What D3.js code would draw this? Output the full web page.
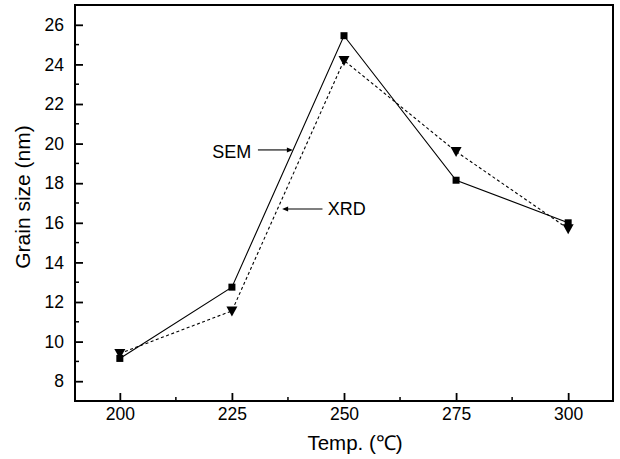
<!DOCTYPE html>
<html><head><meta charset="utf-8">
<script src="https://cdn.jsdelivr.net/npm/d3@7"></script>
<style>html,body{margin:0;padding:0;background:#fff;}svg{display:block;font-family:"Liberation Sans",Arial,sans-serif;}</style>
</head><body>
<svg id="c" width="620" height="459"></svg>
<script>
const temps = [200, 225, 250, 275, 300];
const semValues = [9.15, 12.75, 25.45, 18.15, 16.0];
const xrdValues = [9.4, 11.55, 24.2, 19.6, 15.7];
const xTicks = [200, 225, 250, 275, 300];
const yTicks = [8, 10, 12, 14, 16, 18, 20, 22, 24, 26];
const xLabel = "Temp. (℃)";
const yLabel = "Grain size (nm)";
const annotations = [
  {label: "SEM", textX: 220.6, textY: 19.27, fromX: 230.8, toX: 238.6, y: 19.68},
  {label: "XRD", textX: 246.4, textY: 16.39, fromX: 245.2, toX: 236.2, y: 16.7}
];

const svg = d3.select("#c");
const L = 75, R = 613, T = 5, B = 401;
const x = d3.scaleLinear().domain([190, 310]).range([L, R]);
const y = d3.scaleLinear().domain([7, 27]).range([B, T]);

// frame
svg.append("rect").attr("x", L).attr("y", T).attr("width", R - L).attr("height", B - T)
  .attr("fill", "none").attr("stroke", "#000").attr("stroke-width", 2);

// minor ticks
const xMinor = d3.range(212.5, 300, 25);
const yMinor = d3.range(9, 27, 2);
svg.append("g").selectAll("line").data(xMinor).join("line")
  .attr("x1", d => x(d)).attr("x2", d => x(d)).attr("y1", B).attr("y2", B - 4)
  .attr("stroke", "#000").attr("stroke-width", 1.5);
svg.append("g").selectAll("line").data(yMinor).join("line")
  .attr("y1", d => y(d)).attr("y2", d => y(d)).attr("x1", L).attr("x2", L + 4)
  .attr("stroke", "#000").attr("stroke-width", 1.5);

// axes
const xAxis = svg.append("g").attr("transform", `translate(0,${B})`)
  .call(d3.axisBottom(x).tickValues(xTicks).tickSizeInner(-8).tickSizeOuter(0).tickPadding(7));
const yAxis = svg.append("g").attr("transform", `translate(${L},0)`)
  .call(d3.axisLeft(y).tickValues(yTicks).tickSizeInner(-8).tickSizeOuter(0).tickPadding(11));
[xAxis, yAxis].forEach(g => {
  g.select(".domain").remove();
  g.selectAll(".tick line").attr("stroke-width", 1.8);
  g.selectAll("text").attr("font-size", 17.5).attr("fill", "#000")
    .attr("font-family", "'Liberation Sans',Arial,sans-serif");
});

// axis titles
svg.append("text").attr("x", 355).attr("y", 450).attr("text-anchor", "middle")
  .attr("font-size", 20.5).text(xLabel);
svg.append("text").attr("transform", `translate(30,197) rotate(-90)`).attr("text-anchor", "middle")
  .attr("font-size", 21).text(yLabel);

// lines
const line = d3.line().x(d => x(d[0])).y(d => y(d[1]));
const sem = temps.map((t, i) => [t, semValues[i]]);
const xrd = temps.map((t, i) => [t, xrdValues[i]]);
svg.append("path").datum(xrd).attr("d", line).attr("fill", "none")
  .attr("stroke", "#000").attr("stroke-width", 1.1).attr("stroke-dasharray", "3,2.5");
svg.append("path").datum(sem).attr("d", line).attr("fill", "none")
  .attr("stroke", "#000").attr("stroke-width", 1.1);

// markers
svg.append("g").selectAll("path").data(xrd).join("path")
  .attr("transform", d => `translate(${x(d[0])},${y(d[1])})`)
  .attr("d", "M-5.5,-4.5L5.5,-4.5L0,5.5Z").attr("fill", "#000");
svg.append("g").selectAll("rect").data(sem).join("rect")
  .attr("x", d => x(d[0]) - 3.5).attr("y", d => y(d[1]) - 3.5)
  .attr("width", 7).attr("height", 7).attr("fill", "#000");

// annotations
const ann = svg.append("g");
annotations.forEach(a => {
  ann.append("text").attr("x", x(a.textX)).attr("y", y(a.textY)).attr("font-size", 18).text(a.label);
  const x1 = x(a.fromX), x2 = x(a.toX), yy = y(a.y);
  const dir = Math.sign(x2 - x1);
  ann.append("line").attr("x1", x1).attr("x2", x2 - dir * 5).attr("y1", yy).attr("y2", yy)
    .attr("stroke", "#000").attr("stroke-width", 1.1);
  ann.append("path").attr("d", `M${x2},${yy}L${x2 - dir * 6},${yy - 2.5}L${x2 - dir * 6},${yy + 2.5}Z`)
    .attr("fill", "#000");
});
</script>
</body></html>
